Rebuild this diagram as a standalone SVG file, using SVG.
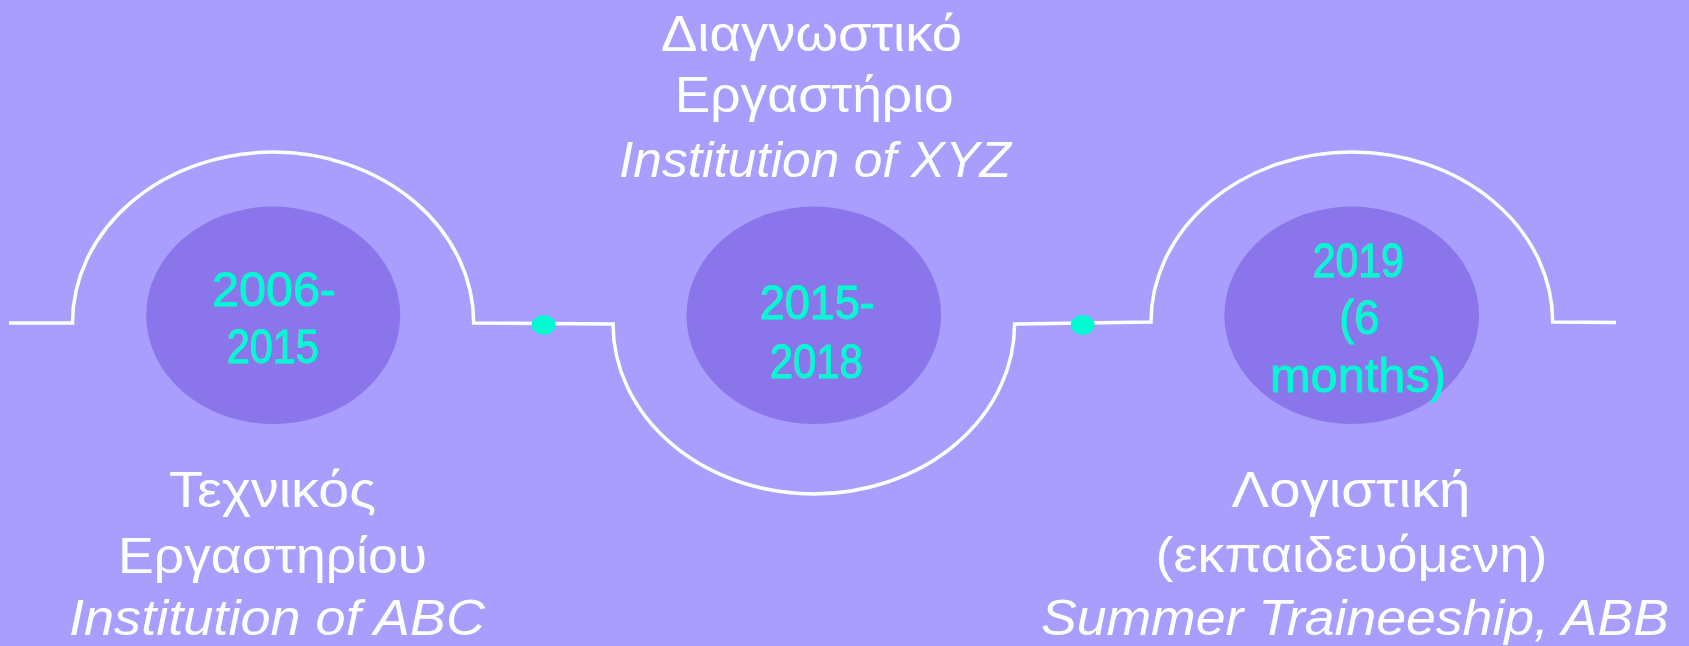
<svg xmlns="http://www.w3.org/2000/svg" width="1689" height="646" viewBox="0 0 1689 646">
<style>
.bg{fill:#A99DFE}
.disc{fill:#8B75EB}
.yr{font-family:"Liberation Sans","DejaVu Sans",sans-serif;font-size:48px;fill:#00FAD2;stroke:#00FAD2;stroke-width:0.9;text-anchor:middle}
.lb{font-family:"Liberation Sans","DejaVu Sans",sans-serif;font-size:50px;fill:#FFFFFF;text-anchor:middle}
.it{font-style:italic}
.line{fill:none;stroke:#FFFFFF;stroke-width:3.5}
.dot{fill:#00FAD2}
</style>
<rect class="bg" x="0" y="0" width="1689" height="646"/>
<g id="connectors">
<path class="line" d="M 9 323 L 72.5 323 A 200 170.5 0 0 1 473.7 323 L 613 324 A 200 169.3 0 0 0 1014.6 324 L 1151 322 A 200 169.3 0 0 1 1552.7 322 L 1616 322.5"/>
<ellipse class="dot" cx="543.6" cy="325" rx="12" ry="10"/>
<ellipse class="dot" cx="1082.7" cy="325" rx="12" ry="10"/>
</g>
<g id="node-2006">
<ellipse class="disc" cx="273.2" cy="315.3" rx="127" ry="108.7"/>
<text class="yr" x="274" y="305.7" textLength="124" lengthAdjust="spacingAndGlyphs">2006-</text>
<text class="yr" x="273" y="362.7" textLength="92" lengthAdjust="spacingAndGlyphs">2015</text>
</g>
<g id="node-2015">
<ellipse class="disc" cx="813.8" cy="315.3" rx="127.3" ry="108.7"/>
<text class="yr" x="817.5" y="319.3" textLength="115" lengthAdjust="spacingAndGlyphs">2015-</text>
<text class="yr" x="816.5" y="377.7" textLength="93" lengthAdjust="spacingAndGlyphs">2018</text>
</g>
<g id="node-2019">
<ellipse class="disc" cx="1351.7" cy="315.3" rx="127.3" ry="108.7"/>
<text class="yr" x="1358.5" y="276.7" textLength="91" lengthAdjust="spacingAndGlyphs">2019</text>
<text class="yr" x="1359.5" y="334" textLength="40" lengthAdjust="spacingAndGlyphs">(6</text>
<text class="yr" x="1358" y="391.7" textLength="176" lengthAdjust="spacingAndGlyphs">months)</text>
</g>
<g id="label-abc">
<text class="lb" x="272.5" y="506.7" textLength="207" lengthAdjust="spacingAndGlyphs">Τεχνικός</text>
<text class="lb" x="272.5" y="572.7" textLength="309" lengthAdjust="spacingAndGlyphs">Εργαστηρίου</text>
<text class="lb it" x="277" y="635" textLength="416" lengthAdjust="spacingAndGlyphs">Institution of ABC</text>
</g>
<g id="label-xyz">
<text class="lb" x="811.5" y="50.7" textLength="301" lengthAdjust="spacingAndGlyphs">Διαγνωστικό</text>
<text class="lb" x="814.2" y="111.7" textLength="279" lengthAdjust="spacingAndGlyphs">Εργαστήριο</text>
<text class="lb it" x="815" y="176.7" textLength="392" lengthAdjust="spacingAndGlyphs">Institution of XYZ</text>
</g>
<g id="label-abb">
<text class="lb" x="1351" y="506.7" textLength="239" lengthAdjust="spacingAndGlyphs">Λογιστική</text>
<text class="lb" x="1351.5" y="571.7" textLength="392" lengthAdjust="spacingAndGlyphs">(εκπαιδευόμενη)</text>
<text class="lb it" x="1355" y="635" textLength="628" lengthAdjust="spacingAndGlyphs">Summer Traineeship, ABB</text>
</g>
</svg>
